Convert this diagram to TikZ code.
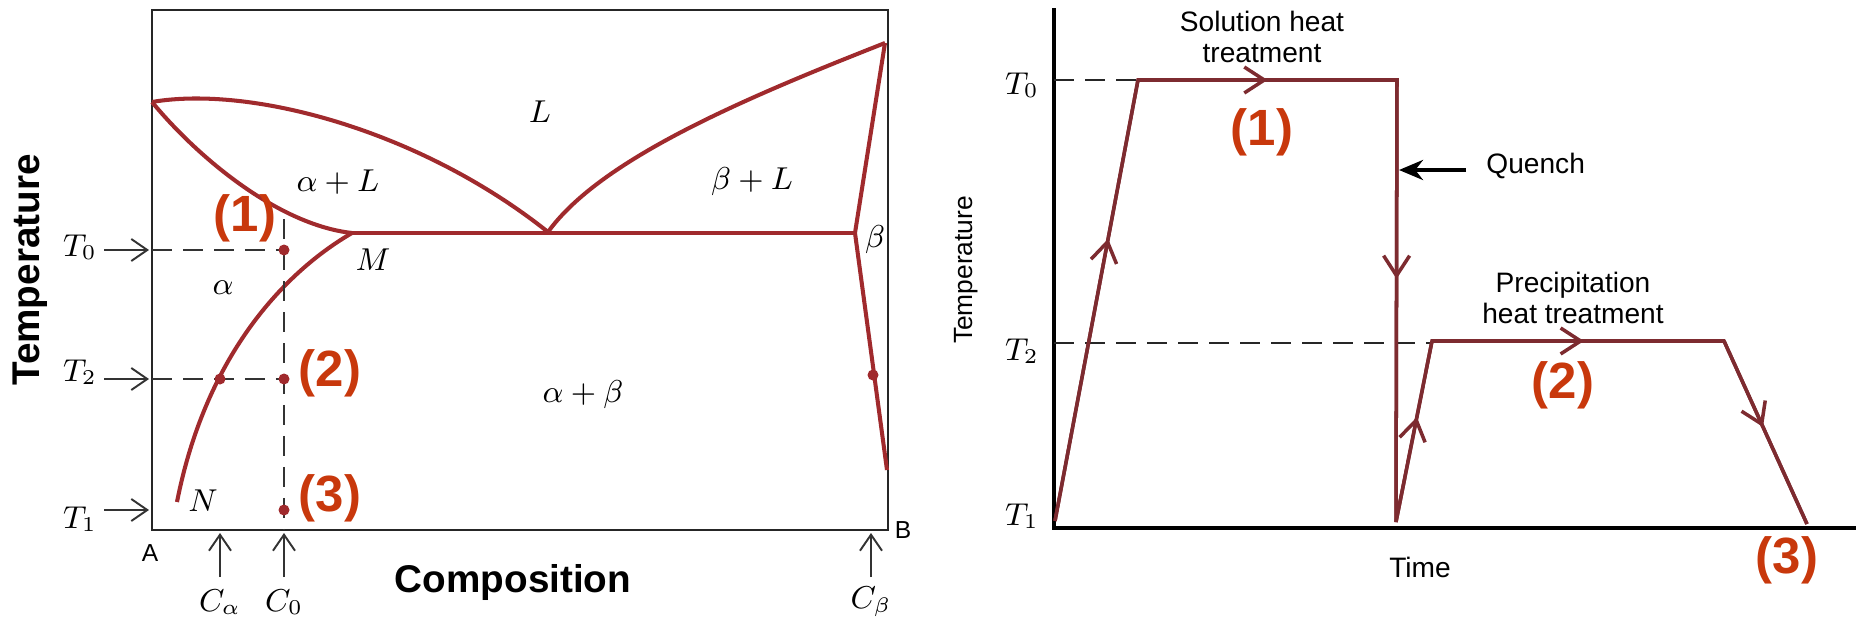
\documentclass[tikz,border=0pt]{standalone}
\usepackage{fontspec}
\setsansfont{Liberation Sans}
\usetikzlibrary{arrows.meta,decorations.markings}
\definecolor{curvecolor}{HTML}{A02A2D}
\definecolor{pathcolor}{HTML}{7D2B30}
\definecolor{stagecolor}{HTML}{C8380C}
\tikzset{
  pd box/.style={draw=black!85,line width=.7pt},
  pd curve/.style={curvecolor,line width=1.15pt},
  pd guide/.style={black!80,line width=.6pt,dash pattern=on 2mm off 1.1mm},
  pd tick/.style={black!80,line width=.55pt,-{Straight Barb[length=1.6mm,width=2.2mm]}},
  pd dot/.style={circle,fill=curvecolor,inner sep=0pt,minimum size=1.1mm},
  pd math/.style={font=\fontsize{9}{10}\selectfont},
  pd sans/.style={font=\sffamily\fontsize{7}{8}\selectfont},
  stage num/.style={text=stagecolor,font=\sffamily\bfseries\fontsize{14.5}{16}\selectfont},
  axis title/.style={font=\sffamily\bfseries\fontsize{11}{12}\selectfont},
  ht axis/.style={black,line width=.9pt},
  ht path/.style={pathcolor,line width=1pt},
  ht guide/.style={black!85,line width=.85pt,dash pattern=on 2mm off 1.1mm},
  ht text/.style={font=\sffamily\fontsize{8}{8.8}\selectfont,align=center},
  ht mid/.style={postaction={decorate},decoration={markings,mark=at position #1 with {\arrow{Straight Barb[length=2mm,width=2.6mm]}}}},
  quench arrow/.style={black,line width=1.3pt,-{Stealth[length=2.4mm,width=2mm]}}
}

\begin{document}
\begin{tikzpicture}[x=.1mm,y=-.1mm]
  \useasboundingbox (0,0) rectangle (1856,623);
  \begin{scope}
    \draw[pd box] (152,10) rectangle (888,530);
    \coordinate (meltA) at (152,102);
    \coordinate (meltB) at (885,43);
    \coordinate (eut) at (548,232);
    \coordinate (M) at (352,233);
    \coordinate (betaP) at (855,233);
    \coordinate (solvA) at (177,502);
    \coordinate (solvB) at (887,470);
    \draw[pd curve] (meltA) .. controls (250,85) and (420,130) .. (eut);
    \draw[pd curve] (meltA) .. controls (200,160) and (280,225) .. (M);
    \draw[pd curve] (eut) .. controls (600,160) and (740,100) .. (meltB);
    \draw[pd curve] (M) -- (betaP);
    \draw[pd curve] (meltB) -- (betaP) -- (solvB);
    \draw[pd curve] (M) .. controls (280,275) and (205,360) .. (solvA);
    \coordinate (s1) at (284,250);
    \coordinate (s2) at (284,379);
    \coordinate (s3) at (284,510);
    \coordinate (sA) at (220,379);
    \coordinate (sB) at (873,375);
    \coordinate (c0top) at (284,219);
    \coordinate (c0foot) at (284,530);
    \coordinate (edge0) at (152,250);
    \coordinate (edge2) at (152,379);
    \draw[pd guide] (c0top) -- (c0foot);
    \draw[pd guide] (edge0) -- (s1);
    \draw[pd guide] (edge2) -- (s2);
    \foreach \s/\nm in {s1/1,s2/2,s3/3,sA/A,sB/B}{\node[pd dot] (dot\nm) at (\s) {};}
    \foreach \y/\ly/\i in {250/247/0,379/372/2,510/519/1}{
      \node[pd math] (tlab\i) at (80,\ly) {$T_\i$};
      \coordinate (ttail\i) at (104,\y);
      \coordinate (thead\i) at (149,\y);
      \draw[pd tick] (ttail\i) -- (thead\i);
    }
    \foreach \x/\lab/\nm in {220/C_\alpha/ca,284/C_0/cz,871/C_\beta/cb}{
      \coordinate (ctail\nm) at (\x,577);
      \coordinate (chead\nm) at (\x,533);
      \draw[pd tick] (ctail\nm) -- (chead\nm);
      \node[pd math] (clab\nm) at (\x,602) {$\lab$};
    }
    \node[pd sans] (endA) at (150,553) {A};
    \node[pd sans] (endB) at (903,530) {B};
    \node[pd math] (regL) at (540,112) {$L$};
    \node[pd math] (regAL) at (338,182) {$\alpha + L$};
    \node[pd math] (regBL) at (752,182) {$\beta + L$};
    \node[pd math] (regA) at (223,288) {$\alpha$};
    \node[pd math] (regB) at (875,240) {$\beta$};
    \node[pd math] (regAB) at (583,395) {$\alpha + \beta$};
    \node[pd math] (ptM) at (373,260) {$M$};
    \node[pd math] (ptN) at (203,501) {$N$};
    \node[stage num] (stA1) at (245,218) {(1)};
    \node[stage num] (stA2) at (330,373) {(2)};
    \node[stage num] (stA3) at (330,498) {(3)};
    \node[axis title,rotate=90] (tempA) at (30,270) {Temperature};
    \node[axis title] (compA) at (513,583) {Composition};
  \end{scope}
  \begin{scope}
    \coordinate (origin) at (1054,528);
    \coordinate (ytop) at (1054,8);
    \coordinate (xend) at (1856,528);
    \draw[ht axis] (ytop) -- (origin) -- (xend);
    \coordinate (h0) at (1055,521);
    \coordinate (h1) at (1138,80);
    \coordinate (h2) at (1397,80);
    \coordinate (h3) at (1396,522);
    \coordinate (h4) at (1432,341);
    \coordinate (h5) at (1724,341);
    \coordinate (h6) at (1807,524);
    \coordinate (lev0) at (1054,80);
    \coordinate (lev2) at (1054,343);
    \coordinate (lev2end) at (1432,343);
    \draw[ht guide] (lev0) -- (h1);
    \draw[ht guide] (lev2) -- (lev2end);
    \draw[ht path] (h0) -- (h1) -- (h2) -- (h3) -- (h4) -- (h5) -- (h6);
    \foreach \sa/\sb/\pos in {h0/h1/.64,h1/h2/.5,h2/h3/.45,h3/h4/.58,h4/h5/.52,h5/h6/.47}{
      \draw[ht path,ht mid=\pos] (\sa) -- (\sb);
    }
    \foreach \y/\i in {85/0,351/2,516/1}{\node[pd math] (tlabr\i) at (1022,\y) {$T_\i$};}
    \coordinate (qtail) at (1466,170);
    \coordinate (qhead) at (1399,170);
    \draw[quench arrow] (qtail) -- (qhead);
    \node[ht text,anchor=west] (quench) at (1474,166) {Quench};
    \node[ht text] (solnote) at (1262,37) {Solution heat\\treatment};
    \node[ht text] (precnote) at (1573,298) {Precipitation\\heat treatment};
    \node[ht text] (timeB) at (1420,567) {Time};
    \node[ht text,rotate=90,font=\sffamily\fontsize{7.5}{8}\selectfont] (tempB) at (966,270) {Temperature};
    \node[stage num] (stB1) at (1262,132) {(1)};
    \node[stage num] (stB2) at (1563,385) {(2)};
    \node[stage num] (stB3) at (1787,560) {(3)};
  \end{scope}
\end{tikzpicture}
\end{document}
